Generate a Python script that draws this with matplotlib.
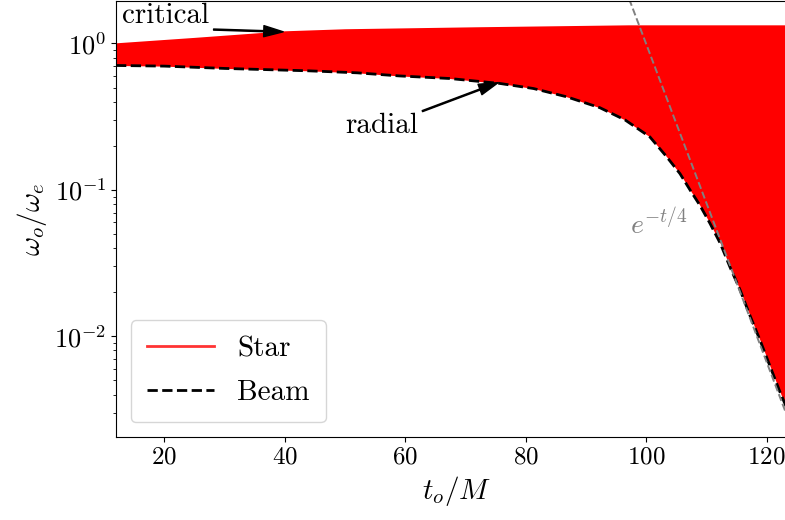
import matplotlib
matplotlib.use("Agg")
import matplotlib.pyplot as plt
import numpy as np

# Computer Modern look without LaTeX
plt.rcParams['font.family'] = 'serif'
plt.rcParams['font.serif'] = ['cmr10', 'DejaVu Serif']
plt.rcParams['mathtext.fontset'] = 'cm'
plt.rcParams['axes.formatter.use_mathtext'] = True
plt.rcParams['font.size'] = 21

# upper edge of the star region (critical orbit)
t_crit = [12, 25, 40, 50, 72, 97, 123.5]
w_crit = [1.01, 1.10, 1.22, 1.26, 1.30, 1.34, 1.34]

# lower edge / beam (radial)
t_rad = [12, 20, 30, 44, 52, 59, 67.4, 75.7, 81.3, 86.8, 92.3, 96.5, 100.6, 103.4,
         105.6, 107.3, 108.9, 110.6, 112.3, 113.9, 115.6, 117.2, 118.9, 120.6, 122.2, 123.5]
w_rad = [0.707, 0.70, 0.675, 0.650, 0.63, 0.600, 0.576, 0.533, 0.492, 0.432, 0.364, 0.300,
         0.230, 0.168, 0.129, 0.0994, 0.0785, 0.0588, 0.0430, 0.0297, 0.0206, 0.0139,
         0.00937, 0.00616, 0.00416, 0.0031]

# e^{-t/4} guide line, end points
t_ref = [95, 125]
w_ref = [3.46, 0.0019]

fig = plt.figure(figsize=(7.85, 5.2), dpi=100)
ax = fig.add_axes([0.1478, 0.1596, 0.8673, 0.8379])

# star region filled between the two edges
t_grid = np.union1d(t_crit, t_rad)
top = np.exp(np.interp(t_grid, t_crit, np.log(w_crit)))
bot = np.exp(np.interp(t_grid, t_rad, np.log(w_rad)))
ax.fill_between(t_grid, bot, top, color='red', lw=0)
ax.plot([], [], color='red', alpha=0.8, lw=2, label='Star')
ax.plot(t_rad, w_rad, 'k--', lw=2, label='Beam')
ax.plot(t_ref, w_ref, '--', color='gray', lw=1.4)

ax.text(97.3, 0.05, r'$e^{-t/4}$', color='gray', fontsize=20)

arrow = dict(facecolor='black', width=0.8, headwidth=8, headlength=14, shrink=0.02)
ax.annotate('critical', xy=(40, 1.20), xytext=(13, 1.37), arrowprops=arrow)
ax.annotate('radial', xy=(75.7, 0.545), xytext=(50, 0.244), arrowprops=arrow)

ax.set_yscale('log')
ax.set_xlim(12, 125)
ax.set_ylim(0.00205, 1.94)
ax.set_xticks([20, 40, 60, 80, 100, 120])
ax.tick_params(axis='x', labelsize=18)
ax.tick_params(axis='y', labelsize=19)
ax.set_xlabel(r'$t_o/M$')
ax.set_ylabel(r'$\omega_o/\omega_e$')
ax.legend(loc='lower left', handlelength=2.3, labelspacing=0.6, borderpad=0.55)

fig.savefig('out.png', dpi=100)
